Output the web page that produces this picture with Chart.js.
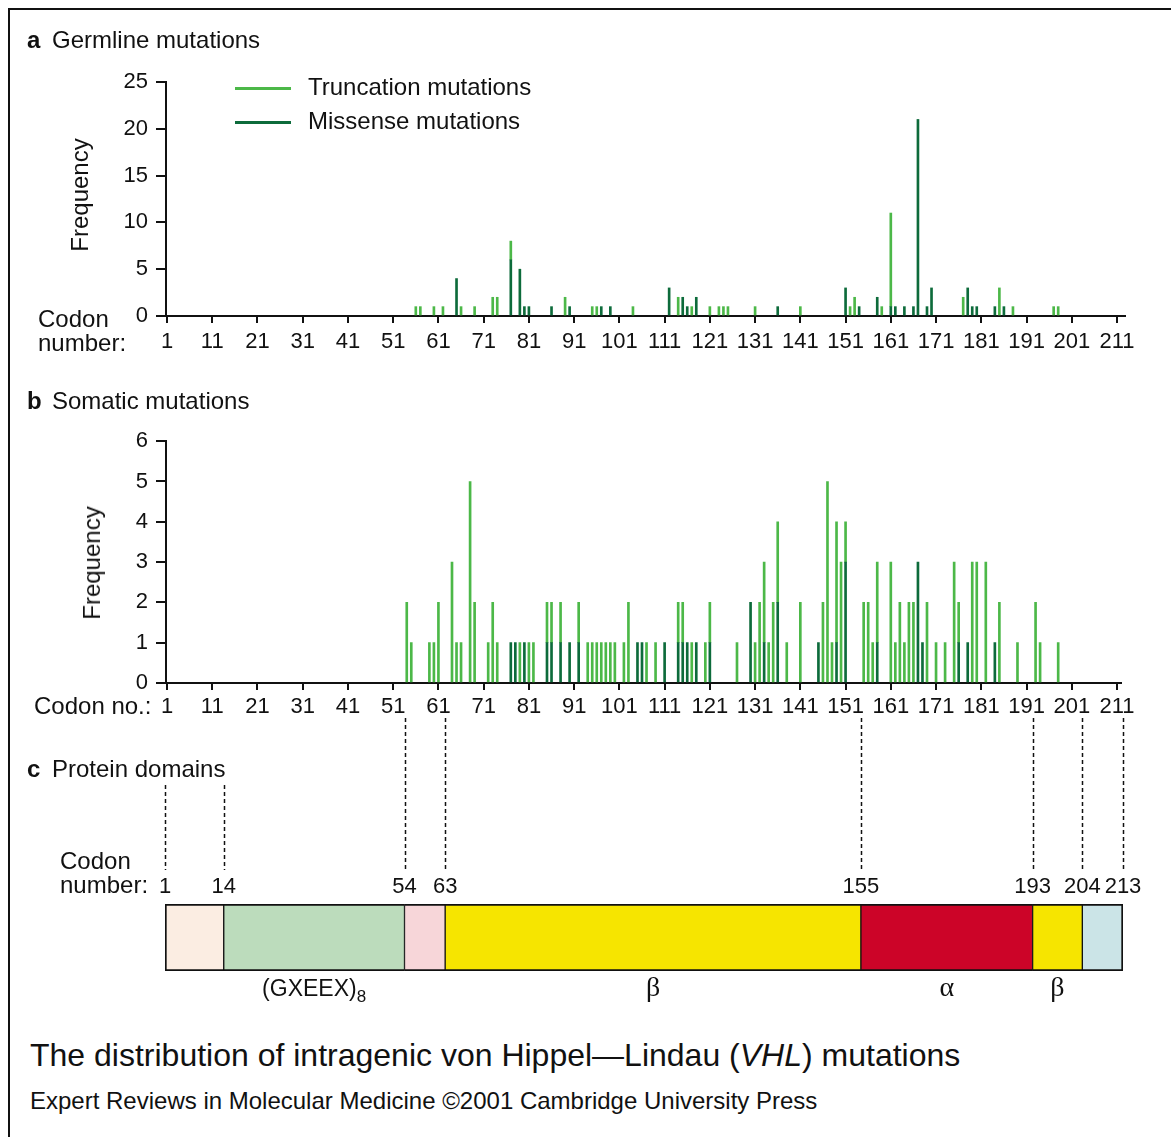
<!DOCTYPE html>
<html>
<head>
<meta charset="utf-8">
<script src="https://cdn.jsdelivr.net/npm/chart.js@4.4.1/dist/chart.umd.min.js"></script>
<style>
  body { margin: 0; background: #fff; }
  #fig { position: relative; width: 1171px; height: 1137px; overflow: hidden;
         font-family: "Liberation Sans", Arial, sans-serif; color: #111; }
  #fig canvas { position: absolute; left: 0; }
  .t { position: absolute; white-space: nowrap; line-height: 1; font-size: 24px; }
  .rot { position: absolute; white-space: nowrap; line-height: 1; font-size: 24px;
         transform: translate(-50%, -50%) rotate(-90deg); }
  .key { position: absolute; height: 3px; width: 56px; }
  #frame { position: absolute; left: 8px; top: 8px; width: 1200px; height: 1200px;
           border-left: 2px solid #111; border-top: 2px solid #111; }
</style>
</head>
<body>
<div id="fig">
  <div id="frame"></div>
  <canvas id="germChart" width="1171" height="370" style="top:0"></canvas>
  <canvas id="somChart" width="1171" height="310" style="top:420px"></canvas>
  <canvas id="domainChart" width="1171" height="310" style="top:700px"></canvas>

  <div class="t" style="left:27px;top:28px"><b>a</b></div>
  <div class="t" style="left:52px;top:28px">Germline mutations</div>
  <div class="key" style="left:235px;top:87px;background:#4cb848"></div>
  <div class="key" style="left:235px;top:121px;background:#0d6b3b"></div>
  <div class="t" style="left:308px;top:75px">Truncation mutations</div>
  <div class="t" style="left:308px;top:109px">Missense mutations</div>
  <div class="rot" style="left:80px;top:195px">Frequency</div>
  <div class="t" style="left:38px;top:307px">Codon</div>
  <div class="t" style="left:38px;top:331px">number:</div>

  <div class="t" style="left:27px;top:389px"><b>b</b></div>
  <div class="t" style="left:52px;top:389px">Somatic mutations</div>
  <div class="rot" style="left:92px;top:563px">Frequency</div>
  <div class="t" style="left:34px;top:694px">Codon no.:</div>

  <div class="t" style="left:27px;top:757px"><b>c</b></div>
  <div class="t" style="left:52px;top:757px">Protein domains</div>
  <div class="t" style="left:60px;top:849px">Codon</div>
  <div class="t" style="left:60px;top:873px">number:</div>

  <div class="t" style="left:30px;top:1039px;font-size:32px">The distribution of intragenic von Hippel—Lindau (<i>VHL</i>) mutations</div>
  <div class="t" style="left:30px;top:1089px">Expert Reviews in Molecular Medicine ©2001 Cambridge University Press</div>
</div>

<script>
// ---------- data ----------
const codonTicks = [1, 11, 21, 31, 41, 51, 61, 71, 81, 91, 101, 111, 121, 131, 141, 151, 161, 171, 181, 191, 201, 211];

// a: germline
const germMissenseCodon = [65, 77, 79, 80, 81, 86, 90, 97, 99, 112, 115, 116, 118, 136, 151, 154, 158, 161, 162, 164, 166, 167, 169, 170, 178, 179, 180, 184, 186];
const germMissenseFreq  = [4, 6, 5, 1, 1, 1, 1, 1, 1, 3, 2, 1, 2, 1, 3, 1, 2, 1, 1, 1, 1, 21, 1, 3, 3, 1, 1, 1, 1];
const germTruncCodon = [56, 57, 60, 62, 66, 69, 73, 74, 77, 89, 95, 96, 104, 114, 117, 121, 123, 124, 125, 131, 141, 152, 153, 159, 161, 177, 185, 188, 197, 198];
const germTruncFreq  = [1, 1, 1, 1, 1, 1, 2, 2, 2, 2, 1, 1, 1, 2, 1, 1, 1, 1, 1, 1, 1, 1, 2, 1, 10, 2, 3, 1, 1, 1];

// b: somatic
const somMissenseCodon = [77, 78, 80, 85, 86, 88, 90, 92, 105, 106, 111, 114, 115, 116, 118, 121, 130, 133, 136, 145, 149, 151, 158, 167, 168, 176, 178, 184];
const somMissenseFreq  = [1, 1, 1, 1, 1, 1, 1, 1, 1, 1, 1, 1, 1, 1, 1, 1, 2, 1, 2, 1, 1, 3, 1, 3, 1, 1, 1, 1];
const somTruncCodon = [54, 55, 59, 60, 61, 64, 65, 66, 68, 69,
                       72, 73, 74, 79, 81, 82, 85, 86, 88, 92,
                       94, 95, 96, 97, 98, 99, 100, 102, 103, 107,
                       109, 114, 115, 117, 120, 121, 127, 131, 132, 133,
                       134, 135, 136, 138, 141, 146, 147, 148, 149, 150,
                       151, 155, 156, 157, 158, 161, 162, 163, 164, 165,
                       166, 169, 171, 173, 175, 176, 179, 180, 182, 185,
                       189, 193, 194, 198];
const somTruncFreq  = [2, 1, 1, 1, 2, 3, 1, 1, 5, 2,
                       1, 2, 1, 1, 1, 1, 1, 1, 1, 1,
                       1, 1, 1, 1, 1, 1, 1, 1, 2, 1,
                       1, 1, 1, 1, 1, 1, 1, 1, 2, 2,
                       1, 2, 2, 1, 2, 2, 5, 1, 3, 3,
                       1, 2, 2, 1, 2, 3, 1, 2, 1, 2,
                       2, 2, 1, 1, 3, 1, 3, 3, 3, 2,
                       1, 2, 1, 1];

// c: protein domains
const domainStart = [1, 14, 54, 63, 155, 193, 204];
const domainEnd   = [14, 54, 63, 155, 193, 204, 213];
const domainName  = ['', '(GXEEX)', '', 'β', 'α', 'β', ''];
const domainSub   = ['', '8', '', '', '', '', ''];
const domainBounds = [1, 14, 54, 63, 155, 193, 204, 213];

// ---------- style ----------
const LIGHT = '#4cb848';
const DARK = '#0d6b3b';
const INK = '#111';
const SANS = '"Liberation Sans", Arial, sans-serif';
const domainColors = ['#fbede2', '#bcdcbc', '#f7d6d9', '#f6e500', '#cc0428', '#f6e500', '#cbe4e7'];

Chart.defaults.font.family = SANS;
Chart.defaults.color = INK;

// codon 1 sits at x=167, codon 211 at x=1117
const CODON_PX = (1117 - 167) / 210;
const codonAt = px => 1 + (px - 167) / CODON_PX;

function pts(codons, freqs) {
  return codons.map((c, i) => ({ x: c, y: freqs[i] }));
}

function mutationChart(id, opt) {
  const left = 166;
  return new Chart(document.getElementById(id), {
    type: 'bar',
    data: {
      datasets: [
        { label: 'Missense mutations', data: pts(opt.mc, opt.mf), backgroundColor: DARK, barThickness: 2 },
        { label: 'Truncation mutations', data: pts(opt.tc, opt.tf), backgroundColor: LIGHT, barThickness: 2 }
      ]
    },
    options: {
      responsive: false,
      animation: false,
      layout: { padding: { top: opt.top, right: 1171 - opt.right, left: 0, bottom: 0 } },
      plugins: { legend: { display: false }, tooltip: { enabled: false } },
      scales: {
        x: {
          type: 'linear', stacked: true, offset: false,
          min: codonAt(left), max: codonAt(opt.right),
          afterBuildTicks: s => { s.ticks = codonTicks.map(v => ({ value: v })); },
          afterFit: s => { s.height = opt.h - opt.bottom; },
          grid: { drawOnChartArea: false, drawTicks: true, tickLength: 7, color: INK, lineWidth: 2, offset: false },
          border: { display: true, color: INK, width: 2 },
          ticks: { font: { size: 22 }, padding: opt.xpad, autoSkip: false, maxRotation: 0, color: INK }
        },
        y: {
          stacked: true, min: 0, max: opt.ymax,
          afterFit: s => { s.width = left; },
          grid: { drawOnChartArea: false, drawTicks: true, tickLength: 10, color: INK, lineWidth: 2 },
          border: { display: true, color: INK, width: 2 },
          ticks: { stepSize: opt.step, font: { size: 22 }, padding: 8, color: INK }
        }
      }
    }
  });
}

mutationChart('germChart', {
  mc: germMissenseCodon, mf: germMissenseFreq, tc: germTruncCodon, tf: germTruncFreq,
  h: 370, top: 82, bottom: 316, right: 1125, ymax: 25, step: 5, xpad: 6
});

mutationChart('somChart', {
  mc: somMissenseCodon, mf: somMissenseFreq, tc: somTruncCodon, tf: somTruncFreq,
  h: 310, top: 439 - 420, bottom: 683 - 420, right: 1121, ymax: 6, step: 1, xpad: 4
});

// ---------- c: domain strip ----------
const domainExtras = {
  id: 'domainExtras',
  afterDraw(chart) {
    const ctx = chart.ctx;
    const xs = chart.scales.x;
    ctx.save();
    // dashed guides from the codon labels up toward panel b
    ctx.strokeStyle = INK;
    ctx.lineWidth = 1.5;
    ctx.setLineDash([4, 3]);
    domainBounds.forEach(b => {
      const x = Math.round(xs.getPixelForValue(b)) + 0.5;
      ctx.beginPath();
      ctx.moveTo(x, b < 30 ? 85 : 18);
      ctx.lineTo(x, 170);
      ctx.stroke();
    });
    ctx.setLineDash([]);
    // domain names under the strip
    ctx.fillStyle = INK;
    ctx.textBaseline = 'middle';
    const y = chart.chartArea.bottom + 19;
    domainName.forEach((name, i) => {
      if (!name) return;
      const cx = (xs.getPixelForValue(domainStart[i]) + xs.getPixelForValue(domainEnd[i])) / 2;
      const greek = /[α-ω]/.test(name);
      const mainFont = greek ? '28px "Liberation Serif", "Times New Roman", serif' : '23px ' + SANS;
      ctx.font = mainFont;
      const w = ctx.measureText(name).width;
      let subW = 0;
      const subFont = '17px ' + SANS;
      if (domainSub[i]) {
        ctx.font = subFont;
        subW = ctx.measureText(domainSub[i]).width;
        ctx.font = mainFont;
      }
      const x0 = cx - (w + subW) / 2;
      ctx.textAlign = 'left';
      ctx.fillText(name, x0, greek ? y - 1 : y);
      if (domainSub[i]) {
        ctx.font = subFont;
        ctx.fillText(domainSub[i], x0 + w, y + 7);
      }
    });
    ctx.restore();
  }
};

const last = domainStart.length - 1;
new Chart(document.getElementById('domainChart'), {
  type: 'bar',
  data: {
    labels: ['VHL'],
    datasets: [{
      data: domainStart.map((s, i) => ({ x: [s, domainEnd[i]], y: 'VHL' })),
      backgroundColor: domainColors,
      borderColor: INK,
      borderSkipped: false,
      borderWidth: c => ({ top: 2, bottom: 2, left: c.dataIndex === 0 ? 2 : 1, right: c.dataIndex === last ? 2 : 1 }),
      barPercentage: 1,
      categoryPercentage: 1
    }]
  },
  options: {
    indexAxis: 'y',
    responsive: false,
    animation: false,
    layout: { padding: { top: 0, right: 1171 - 1123, left: 165, bottom: 310 - 271 } },
    plugins: { legend: { display: false }, tooltip: { enabled: false } },
    scales: {
      x: {
        type: 'linear', position: 'top', min: 1, max: 213, offset: false,
        afterBuildTicks: s => { s.ticks = domainBounds.map(v => ({ value: v })); },
        afterFit: s => { s.height = 204; },
        grid: { display: false, drawTicks: false },
        border: { display: false },
        ticks: { font: { size: 22 }, padding: 4, autoSkip: false, maxRotation: 0, color: INK }
      },
      y: { display: false }
    }
  },
  plugins: [domainExtras]
});
</script>
</body>
</html>
